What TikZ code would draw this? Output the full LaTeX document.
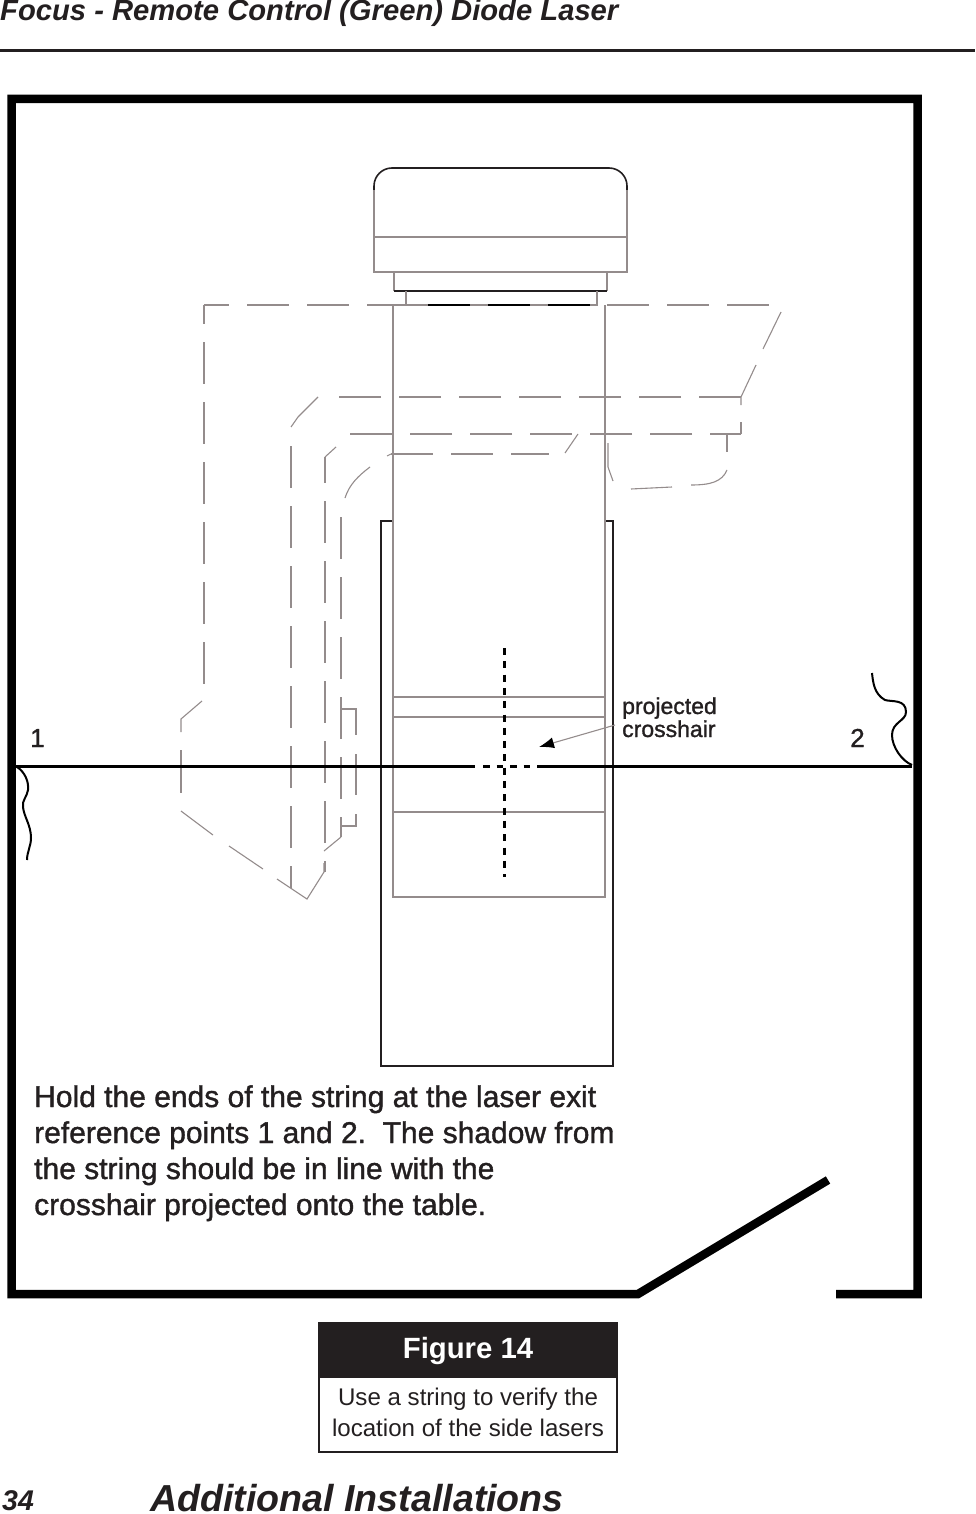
\documentclass[tikz,border=0pt]{standalone}
\usepackage{fontspec}
\setmainfont{Liberation Sans}
\newfontfamily\scanfont[FakeBold=1.2]{Liberation Sans}
\usetikzlibrary{arrows, arrows.meta, positioning, calc}
\definecolor{hatchgray}{HTML}{948C8C}
\definecolor{inkdark}{HTML}{231F20}
\tikzset{
  hatch/.style={draw=hatchgray, line width=1.1pt},
  longdash/.style={hatch, dash pattern=on 42pt off 18pt},
  outline/.style={draw=inkdark, line width=2pt},
  wall/.style={draw=black, line width=8.5pt},
  stringline/.style={draw=black, line width=3pt},
  squiggle/.style={draw=black, line width=2pt},
  blurb/.style={inner sep=0pt, anchor=base west, text=inkdark},
  heading/.style={inner sep=0pt, anchor=base west, text=inkdark, font=\bfseries\itshape}
}
\begin{document}
\begin{tikzpicture}[x=1pt, y=-1pt]
  \useasboundingbox (0, 0) rectangle (975, 1514);

  % page furniture
  \node[heading, font=\fontsize{29.2}{29.2}\selectfont\bfseries\itshape] (pagetitle) at (0, 21) {Focus - Remote Control (Green) Diode Laser};
  \draw[inkdark, line width=3pt] (0, 50.5) -- (975, 50.5);
  \node[heading, font=\fontsize{28.5}{28.5}\selectfont\bfseries\itshape] (pagenum) at (2, 1510.5) {34};
  \node[heading, font=\fontsize{37.6}{37.6}\selectfont\bfseries\itshape] (section) at (150, 1511.5) {Additional Installations};

  % room walls and door
  \draw[wall, line join=miter] (828, 1180) -- (638, 1294) -- (11.5, 1294) -- (11.5, 99) -- (917.5, 99) -- (917.5, 1294) -- (836, 1294);

  % laser head
  \draw[hatch] (374, 186) -- (374, 272) -- (627, 272) -- (627, 186);
  \draw[draw=inkdark, line width=1.6pt, rounded corners=18pt] (374, 190) -- (374, 168) -- (627, 168) -- (627, 190);
  \draw[hatch] (374, 237) -- (627, 237);
  \draw[hatch] (394, 272) -- (394, 291);
  \draw[hatch] (607, 272) -- (607, 291);
  \draw[outline, line width=1.6pt] (394, 291) -- (607, 291);
  \draw[hatch] (406, 291) -- (406, 305) -- (597, 305) -- (597, 291);

  % table
  \draw[outline] (392, 521) -- (381, 521) -- (381, 1066) -- (613, 1066) -- (613, 521) -- (605, 521);

  % beam column
  \draw[hatch] (393, 305) -- (393, 897) -- (605, 897) -- (605, 305);
  \draw[hatch] (393, 697) -- (605, 697);
  \draw[hatch] (393, 717) -- (605, 717);
  \draw[hatch] (393, 812) -- (605, 812);

  % outer hidden outline
  \draw[longdash, dash phase=17pt] (204, 305) -- (772, 305);
  \draw[draw=black, line width=1.6pt, dash pattern=on 42pt off 18pt] (428, 305) -- (590, 305);
  \draw[longdash, dash phase=23pt] (204, 305) -- (204, 684);
  \draw[hatch] (202, 701) -- (181, 719) -- (181, 732);
  \draw[hatch] (181, 750) -- (181, 793);
  \draw[hatch] (181, 811) -- (213, 835);
  \draw[hatch] (229, 846) -- (263, 869);
  \draw[hatch] (277, 879) -- (307, 899) -- (324, 872) -- (324, 863);
  \draw[hatch] (781, 312) -- (763, 349);
  \draw[hatch] (756, 365) -- (741, 397) -- (741, 405);

  % inner hidden lines
  \draw[longdash] (741, 397) -- (337, 397);
  \draw[hatch] (318, 397) -- (298, 417) -- (291, 427);
  \draw[longdash, dash phase=0pt] (291, 446) -- (291, 888);
  \draw[hatch] (741, 422) -- (741, 434);
  \draw[longdash, dash phase=11pt] (741, 434) -- (350, 434);
  \draw[hatch] (336, 447) -- (325, 457);
  \draw[longdash, dash phase=16pt] (325, 457) -- (325, 872);
  \draw[longdash] (341, 517) -- (341, 837);
  \draw[hatch] (341, 837) -- (324, 851);
  \draw[hatch] (345, 498) .. controls (349, 485) and (358, 476) .. (370, 467);
  \draw[hatch] (387, 456) -- (391, 454);
  \draw[longdash] (391, 454) -- (549, 454);
  \draw[hatch] (565, 453) -- (578, 434);

  % small brackets
  \draw[hatch] (341, 709) -- (356, 709) -- (356, 735);
  \draw[hatch] (356, 754) -- (356, 795);
  \draw[hatch] (356, 814) -- (356, 826) -- (341, 826);

  % right hand curve
  \draw[hatch] (608, 443) -- (608, 467) -- (613, 481);
  \draw[hatch] (631, 489) -- (672, 487);
  \draw[hatch] (691, 485) .. controls (710, 485) and (722, 482) .. (727, 470);
  \draw[hatch] (727, 435) -- (727, 452);

  % string and crosshair
  \draw[stringline] (15, 766) -- (475, 766);
  \draw[stringline] (537, 766) -- (912, 766);
  \draw[stringline, dash pattern=on 6.5pt off 7pt] (483, 766) -- (530, 766);
  \draw[stringline, dash pattern=on 7pt off 6.3pt] (504, 648) -- (504, 877);
  \draw[squiggle] (17, 767) .. controls (25, 772) and (29, 782) .. (28, 790) .. controls (27, 797) and (22, 800) .. (23, 807) .. controls (24, 817) and (31, 825) .. (31, 838) .. controls (31, 846) and (27, 852) .. (27, 860);
  \draw[squiggle] (872, 673) .. controls (873, 682) and (874, 694) .. (885, 700) .. controls (892, 702) and (906, 699) .. (906, 712) .. controls (906, 721) and (892, 722) .. (892, 735) .. controls (892, 747) and (902, 761) .. (912, 765);

  % labels
  \node[blurb, font=\fontsize{26}{26}\scanfont] (refone) at (30, 747) {1};
  \node[blurb, font=\fontsize{26}{26}\scanfont] (reftwo) at (850, 747) {2};
  \node[blurb, font=\fontsize{23}{23}\scanfont] (projlabel) at (622, 714) {projected};
  \node[blurb, font=\fontsize{23}{23}\scanfont] (crosslabel) at (622, 737) {crosshair};
  \coordinate (arrowtip) at (539, 747);
  \draw[hatch, -{Latex[length=15pt, width=11pt, black]}] (615, 725) -- (arrowtip);

  \node[blurb, font=\fontsize{30}{30}\scanfont] (noteone) at (34, 1107) {Hold the ends of the string at the laser exit};
  \node[blurb, font=\fontsize{30}{30}\scanfont] (notetwo) at (34, 1143) {reference points 1 and 2.\ \ The shadow from};
  \node[blurb, font=\fontsize{30}{30}\scanfont] (notethree) at (34, 1179) {the string should be in line with the};
  \node[blurb, font=\fontsize{30}{30}\scanfont] (notefour) at (34, 1215) {crosshair projected onto the table.};

  % caption box
  \draw[draw=inkdark, line width=2pt] (319, 1323) rectangle (617, 1452);
  \fill[inkdark] (318, 1322) rectangle (618, 1378);
  \node[text=white, inner sep=0pt, font=\fontsize{29.3}{29.3}\selectfont\bfseries] (figtitle) at (468, 1351) {Figure 14};
  \node[text=inkdark, inner sep=0pt, font=\fontsize{24.1}{24.1}\selectfont] (figlineone) at (468, 1399) {Use a string to verify the};
  \node[text=inkdark, inner sep=0pt, font=\fontsize{24.1}{24.1}\selectfont] (figlinetwo) at (468, 1428) {location of the side lasers};
\end{tikzpicture}
\end{document}
